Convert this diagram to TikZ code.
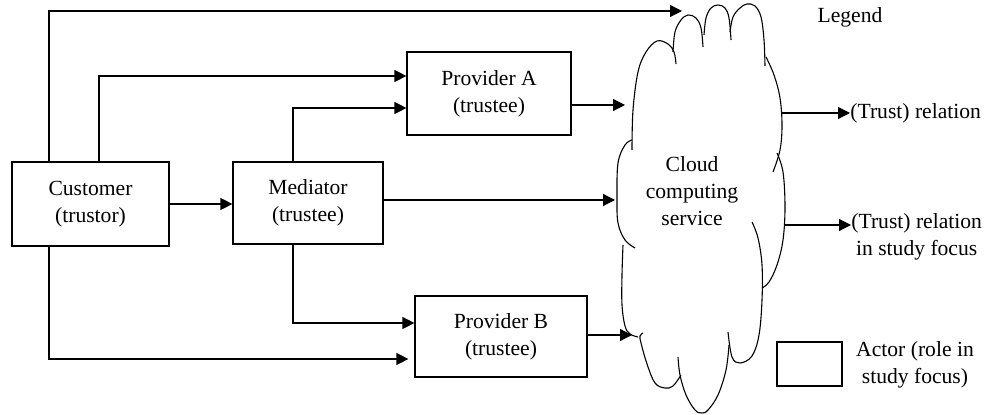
\documentclass[tikz,border=0pt]{standalone}
\usepackage{fontspec}
\setmainfont{Liberation Serif}
\usetikzlibrary{arrows.meta}
\tikzset{
  actor/.style={draw, line width=0.6pt, align=center, inner sep=0pt,
    font=\fontsize{10.8pt}{13.5pt}\selectfont},
  lbl/.style={inner sep=0pt, align=center,
    font=\fontsize{10.8pt}{13.5pt}\selectfont},
  arr/.style={line width=0.6pt, -{Triangle[length=6pt,width=6pt]}},
  lobe/.style={line width=0.55pt, smooth, tension=0.6}
}
\begin{document}
\begin{tikzpicture}[x=0.5pt, y=-0.5pt]
\useasboundingbox (0,0) rectangle (984,415);

% actors
\node[actor, minimum width=78.5pt, minimum height=42pt] (cust) at (90.5,204) {Customer\\(trustor)};
\node[actor, minimum width=75pt, minimum height=41pt] (med) at (308,203) {Mediator\\(trustee)};
\node[actor, minimum width=82pt, minimum height=41.5pt] (pa) at (489,93.5) {Provider A\\(trustee)};
\node[actor, minimum width=86pt, minimum height=40.5pt] (pb) at (501,336.5) {Provider B\\(trustee)};

% cloud outline, drawn as overlapping lobes
\draw[lobe] plot coordinates {(632,150) (633,110) (638,72) (646,52) (657,41) (668,44) (674,52) (676,64)};
\draw[lobe] plot coordinates {(673,52) (675,32) (681,20) (688,15) (696,18) (701,28) (703,47)};
\draw[lobe] plot coordinates {(704,35) (706,18) (711,8) (718,5) (725,8) (729,18) (731,40)};
\draw[lobe] plot coordinates {(730,32) (733,17) (740,8) (747,4) (755,6) (761,17) (764,40) (765,66)};
\draw[lobe] plot coordinates {(766,57) (774,75) (780,98) (782,125) (780,150) (773,172)};
\draw[lobe] plot coordinates {(777,153) (783,172) (785,207) (783,240) (777,265) (769,282) (762,288)};
\draw[lobe] plot coordinates {(752,222) (758,238) (762,265) (762,300) (759,335) (752,356) (740,363) (732,357) (728,332)};
\draw[lobe] plot coordinates {(729,345) (726,370) (718,395) (708,410) (702,413) (695,410) (686,395) (680,375) (678,357)};
\draw[lobe] plot coordinates {(681,375) (673,386) (665,388) (655,383) (647,364) (641,343) (640,336) (643,333)};
\draw[lobe] plot coordinates {(623,245) (622,275) (622,305) (625,326) (630,334) (638,337)};
\draw[lobe] plot coordinates {(632,140) (625,145) (618,163) (617,197) (618,223) (625,240) (635,248)};
\node[lbl] (cloud) at (692,191) {Cloud\\computing\\service};

% entry points on the cloud
\coordinate (cA) at (682,11);
\coordinate (cB) at (625,105);
\coordinate (cC) at (615,200);
\coordinate (cD) at (632,335);

% routing corridors
\coordinate (t1) at (49,11);
\coordinate (t2) at (99,76);
\coordinate (t3) at (293,108);
\coordinate (t7) at (293,323);
\coordinate (t8) at (49,359);

% relations
\draw[arr] (cust.north -| t1) -- (t1) -- (cA);
\draw[arr] (cust.north -| t2) |- (pa.west |- t2);
\draw[arr] (med.north -| t3) |- (pa.west |- t3);
\draw[arr] (pa.east |- cB) -- (cB);
\draw[arr] (cust.east) -- (med.west |- cust.east);
\draw[arr] (med.east |- cC) -- (cC);
\draw[arr] (med.south -| t7) |- (pb.west |- t7);
\draw[arr, shorten >=3pt] (cust.south -| t8) |- (pb.west |- t8);
\draw[arr] (pb.east |- cD) -- (cD);

% legend
\node[lbl] (legend) at (850,17) {Legend};
\coordinate (lA) at (782,113);
\coordinate (lB) at (785,225);
\node[lbl, anchor=west] (relA) at (850,113) {(Trust) relation};
\node[lbl, anchor=west] (relB) at (851,237) {(Trust) relation\\in study focus};
\draw[arr] (lA) -- (relA.west);
\draw[arr] (lB) -- (relB.west |- lB);
\node[actor, minimum width=32.5pt, minimum height=22pt] (lbox) at (809.5,364) {};
\node[lbl] (actorlbl) at (915,365) {Actor (role in\\study focus)};
\end{tikzpicture}
\end{document}
